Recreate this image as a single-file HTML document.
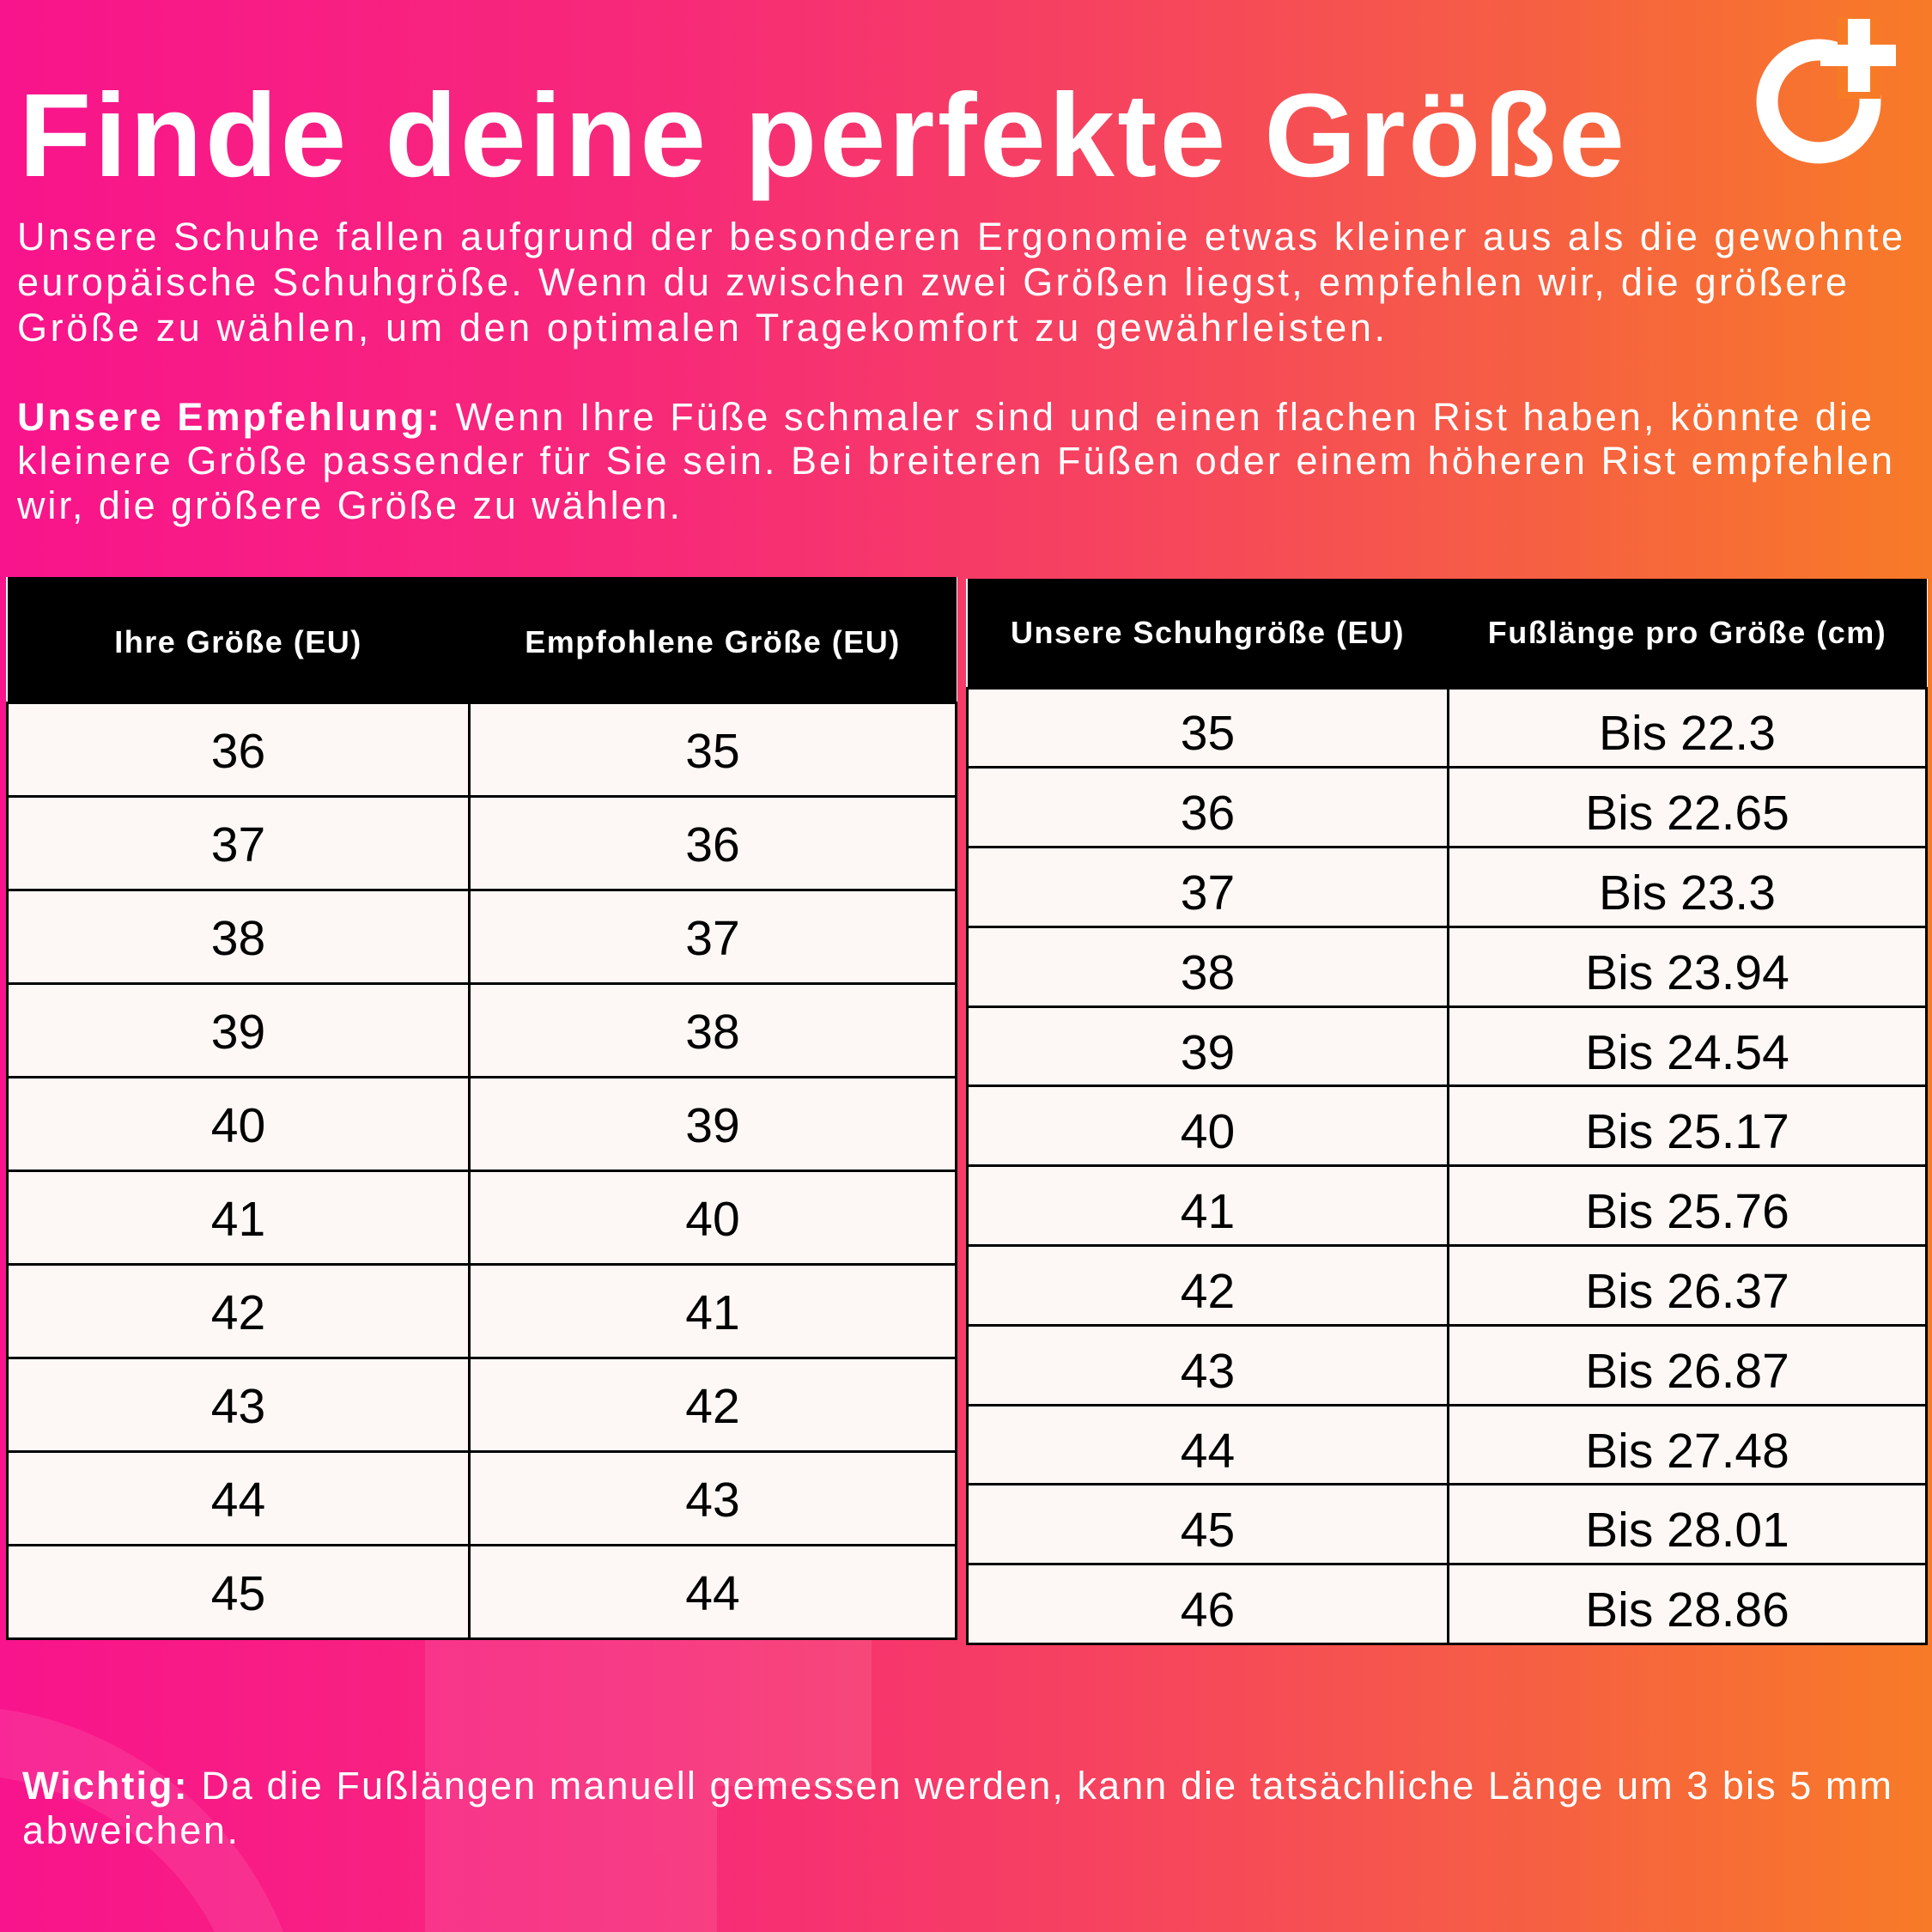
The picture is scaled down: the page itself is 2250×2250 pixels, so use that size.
<!DOCTYPE html>
<html><head><meta charset="utf-8"><style>
*{margin:0;padding:0;box-sizing:border-box}
body{width:2250px;height:2250px;overflow:hidden;font-family:"Liberation Sans",sans-serif;color:#fff;
background:linear-gradient(90deg,#f8148c 0%,#f72a78 35%,#f64c56 65%,#f77b27 100%);position:relative}
table{position:absolute;border-collapse:collapse;background:#fdf8f5;color:#000}
td{border:3px solid #000;text-align:center;font-size:57px}
th{background:#000;color:#fff;font-size:36px;font-weight:bold;letter-spacing:1.5px}
.r td{padding-top:14px}
.l td{padding-top:4px}
svg text{font-family:"Liberation Sans",sans-serif;fill:#fff}
</style></head><body>
<svg style="position:absolute;left:0;top:0" width="2250" height="2250">
<g fill="#fff" opacity="0.09">
<rect x="495" y="1910" width="340" height="340"/>
<rect x="835" y="1910" width="180" height="170"/>
<path d="M0 1990 A 420 420 0 0 1 330 2250 L 250 2250 A 340 340 0 0 0 0 2070 Z"/>
</g>
<circle cx="2118" cy="118" r="60" fill="none" stroke="#fff" stroke-width="25"/>
<rect x="2140" y="20" width="50" height="95" fill="#f77b27"/>
<rect x="2152" y="22" width="26" height="85" fill="#fff"/>
<rect x="2120" y="52" width="88" height="25" fill="#fff"/>
<text x="22" y="205" font-size="138" font-weight="bold" textLength="1870" lengthAdjust="spacing">Finde deine perfekte Größe</text>
<g font-size="45">
<text x="20" y="291" textLength="2196" lengthAdjust="spacing">Unsere Schuhe fallen aufgrund der besonderen Ergonomie etwas kleiner aus als die gewohnte</text>
<text x="20" y="344" textLength="2131" lengthAdjust="spacing">europäische Schuhgröße. Wenn du zwischen zwei Größen liegst, empfehlen wir, die größere</text>
<text x="20" y="397" textLength="1593" lengthAdjust="spacing">Größe zu wählen, um den optimalen Tragekomfort zu gewährleisten.</text>
<text x="20" y="501" textLength="2160" lengthAdjust="spacing"><tspan font-weight="bold">Unsere Empfehlung:</tspan> Wenn Ihre Füße schmaler sind und einen flachen Rist haben, könnte die</text>
<text x="20" y="552" textLength="2184" lengthAdjust="spacing">kleinere Größe passender für Sie sein. Bei breiteren Füßen oder einem höheren Rist empfehlen</text>
<text x="20" y="604" textLength="772" lengthAdjust="spacing">wir, die größere Größe zu wählen.</text>
<text x="26" y="2095" textLength="2177" lengthAdjust="spacing"><tspan font-weight="bold">Wichtig:</tspan> Da die Fußlängen manuell gemessen werden, kann die tatsächliche Länge um 3 bis 5 mm</text>
<text x="26" y="2147" textLength="251" lengthAdjust="spacing">abweichen.</text>
</g>
</svg>
<table class="l" style="left:7px;top:672px;width:1108px">
<tr style="height:146px"><th style="width:538px;padding-top:8px">Ihre Größe (EU)</th><th style="padding-top:8px">Empfohlene Größe (EU)</th></tr>
<tr style="height:109px"><td>36</td><td>35</td></tr>
<tr style="height:109px"><td>37</td><td>36</td></tr>
<tr style="height:109px"><td>38</td><td>37</td></tr>
<tr style="height:109px"><td>39</td><td>38</td></tr>
<tr style="height:109px"><td>40</td><td>39</td></tr>
<tr style="height:109px"><td>41</td><td>40</td></tr>
<tr style="height:109px"><td>42</td><td>41</td></tr>
<tr style="height:109px"><td>43</td><td>42</td></tr>
<tr style="height:109px"><td>44</td><td>43</td></tr>
<tr style="height:109px"><td>45</td><td>44</td></tr>
</table>
<table class="r" style="left:1125px;top:674px;width:1120px">
<tr style="height:127px"><th style="width:560px">Unsere Schuhgröße (EU)</th><th>Fußlänge pro Größe (cm)</th></tr>
<tr style="height:92.8px"><td>35</td><td>Bis 22.3</td></tr>
<tr style="height:92.8px"><td>36</td><td>Bis 22.65</td></tr>
<tr style="height:92.8px"><td>37</td><td>Bis 23.3</td></tr>
<tr style="height:92.8px"><td>38</td><td>Bis 23.94</td></tr>
<tr style="height:92.8px"><td>39</td><td>Bis 24.54</td></tr>
<tr style="height:92.8px"><td>40</td><td>Bis 25.17</td></tr>
<tr style="height:92.8px"><td>41</td><td>Bis 25.76</td></tr>
<tr style="height:92.8px"><td>42</td><td>Bis 26.37</td></tr>
<tr style="height:92.8px"><td>43</td><td>Bis 26.87</td></tr>
<tr style="height:92.8px"><td>44</td><td>Bis 27.48</td></tr>
<tr style="height:92.8px"><td>45</td><td>Bis 28.01</td></tr>
<tr style="height:92.8px"><td>46</td><td>Bis 28.86</td></tr>
</table>
</body></html>
